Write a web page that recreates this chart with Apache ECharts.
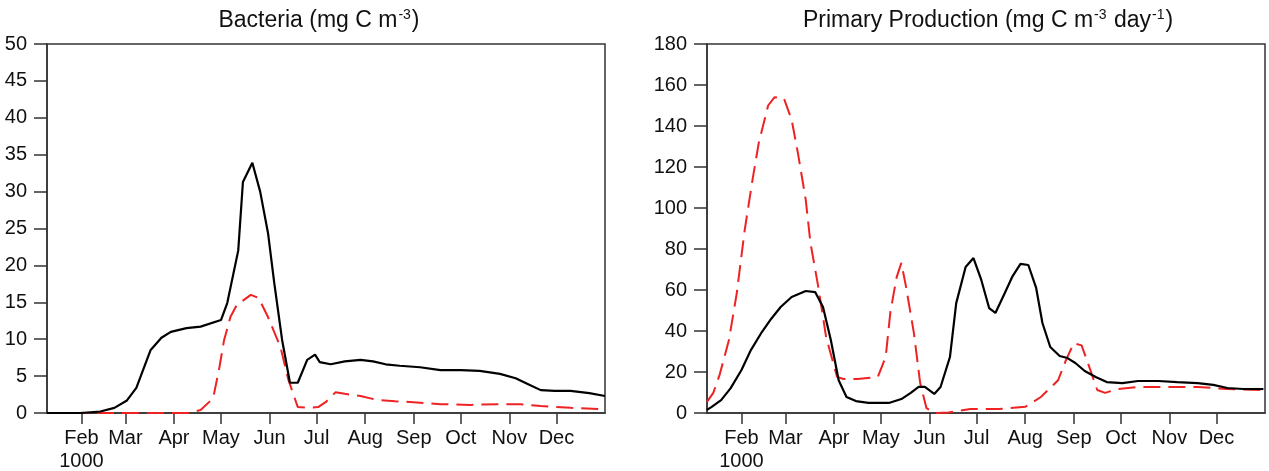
<!DOCTYPE html>
<html>
<head>
<meta charset="utf-8">
<script src="https://cdn.jsdelivr.net/npm/echarts@6/dist/echarts.min.js"></script>
<style>
  html, body { margin: 0; padding: 0; background: #fff; }
  #chart { width: 1269px; height: 471px; }
</style>
</head>
<body>
<div id="chart"></div>
<script>
// x values are day of year (Jan 1 = 0), year 1000
const monthStarts = [31, 59, 90, 120, 151, 181, 212, 243, 273, 304, 334]
const monthNames = ["Feb", "Mar", "Apr", "May", "Jun", "Jul", "Aug", "Sep", "Oct", "Nov", "Dec"]
const yearLabel = "1000"

// Bacteria, solid black
const bactBlackDays = [9, 30, 43, 52, 60, 66, 75, 82, 88, 98, 107, 120, 124, 131, 134, 140, 145, 150, 154, 159, 164, 169, 175, 180, 183, 190, 199, 209, 217, 225, 234, 247, 260, 273, 285, 298, 308, 316, 324, 333, 343, 355, 365]
const bactBlackValues = [0, 0, 0.2, 0.7, 1.7, 3.4, 8.5, 10.2, 11, 11.5, 11.7, 12.6, 14.9, 22, 31.3, 33.9, 30, 24.4, 17.6, 9.9, 4.1, 4.1, 7.2, 7.9, 6.9, 6.6, 7.0, 7.2, 7.0, 6.6, 6.4, 6.2, 5.8, 5.8, 5.7, 5.3, 4.7, 3.9, 3.1, 3.0, 3.0, 2.7, 2.3]

// Bacteria, dashed red
const bactRedDays = [9, 60, 100, 107, 115, 119, 122, 126, 130, 139, 144, 150, 158, 163, 169, 176, 182, 187, 193, 199, 209, 219, 231, 247, 260, 279, 298, 311, 324, 343, 365]
const bactRedValues = [0, 0, 0, 0.4, 2, 6.2, 9.9, 13, 14.6, 16, 15.6, 13, 8.9, 4.5, 0.8, 0.7, 0.8, 1.5, 2.8, 2.6, 2.3, 1.8, 1.6, 1.4, 1.2, 1.1, 1.2, 1.2, 0.95, 0.7, 0.5]

// Primary production, solid black
const ppBlackDays = [9, 12, 18, 24, 31, 37, 44, 50, 56, 63, 72, 78, 83, 88, 93, 98, 104, 112, 125, 133, 139, 144, 148, 154, 158, 164, 168, 174, 179, 184, 189, 193, 199, 204, 209, 214, 219, 223, 228, 234, 239, 244, 250, 257, 264, 274, 284, 297, 309, 322, 332, 341, 351, 364]
const ppBlackValues = [1.5, 3, 6.3, 12, 21, 30.7, 39.5, 46, 51.7, 56.6, 59.5, 59, 51.7, 35.6, 16, 7.8, 5.8, 4.9, 4.9, 6.8, 9.8, 12.7, 12.7, 9.3, 12.7, 27.3, 53.6, 71.2, 75.6, 64.9, 51.2, 48.8, 58.5, 66.8, 72.7, 72.2, 61, 43.9, 32.2, 27.8, 26.8, 24.4, 20.5, 17.6, 15.1, 14.6, 15.6, 15.6, 15.1, 14.6, 13.7, 12.2, 11.7, 11.7]

// Primary production, dashed red
const ppRedDays = [9, 13, 17, 23, 28, 33, 38, 42, 48, 52, 58, 63, 67, 72, 75, 80, 85, 92, 96, 105, 118, 123, 126, 130, 133, 136, 141, 145, 149, 154, 163, 177, 195, 212, 222, 233, 238, 243, 248, 252, 258, 263, 271, 284, 304, 322, 341, 364]
const ppRedValues = [5.4, 9.8, 18.5, 35.6, 58.5, 89, 113.6, 131.7, 150, 154, 153.6, 143, 126.8, 104, 83, 61.5, 37, 17.6, 16.6, 16.6, 17.6, 27.3, 49.3, 66.3, 73.2, 61.5, 39, 14.6, 2.4, 0, 0.2, 1.9, 1.9, 3, 7.8, 16, 25.8, 34, 33, 24.4, 11.2, 9.8, 11.7, 12.7, 12.7, 12.7, 11.7, 11.2]

const zip = (xs, ys) => xs.map((x, i) => [x, ys[i]])

const fontFamily = "Liberation Sans, Arial, sans-serif"
const axisColor = "#333"
const red = "#ee2222"

const chart = echarts.init(document.getElementById("chart"))

function xAxisFor(gridIndex) {
  return {
    type: "value",
    gridIndex,
    min: 9,
    max: 365,
    axisLine: { show: true, lineStyle: { color: axisColor, width: 1.5 } },
    axisTick: {
      show: true,
      length: 11,
      customValues: monthStarts,
      lineStyle: { color: axisColor, width: 1.5 },
    },
    axisLabel: {
      customValues: monthStarts,
      color: "#111",
      fontFamily,
      fontSize: 20,
      lineHeight: 23,
      margin: 14,
      formatter: (v) => {
        const i = monthStarts.indexOf(v)
        if (i < 0) return ""
        return i === 0 ? monthNames[i] + "\n" + yearLabel : monthNames[i]
      },
    },
    splitLine: { show: false },
  }
}

function yAxisFor(gridIndex, max, interval) {
  return {
    type: "value",
    gridIndex,
    min: 0,
    max,
    interval,
    axisLine: { show: true, lineStyle: { color: axisColor, width: 1.5 } },
    axisTick: { show: true, length: 13, lineStyle: { color: axisColor, width: 1.5 } },
    axisLabel: { color: "#111", fontFamily, fontSize: 20, margin: 20 },
    splitLine: { show: false },
  }
}

const titleRich = {
  t: { fontSize: 23, fontFamily, fontWeight: "normal", color: "#111", lineHeight: 26 },
  s: { fontSize: 14, fontFamily, fontWeight: "normal", color: "#111", verticalAlign: "top", lineHeight: 26, padding: [0, 1, 11, 1] },
}

const option = {
  backgroundColor: "#fff",
  animation: false,
  title: [
    {
      text: "{t|Bacteria (mg C m}{s|-3}{t|)}",
      left: 314,
      top: 3,
      textAlign: "center",
      textStyle: { fontWeight: "normal", rich: titleRich },
    },
    {
      text: "{t|Primary Production (mg C m}{s|-3}{t| day}{s|-1}{t|)}",
      left: 983,
      top: 3,
      textAlign: "center",
      textStyle: { fontWeight: "normal", rich: titleRich },
    },
  ],
  grid: [
    { left: 47, right: 664, top: 44, bottom: 58, outerBoundsMode: "none", show: true, borderColor: axisColor, borderWidth: 1.5 },
    { left: 707, right: 4, top: 44, bottom: 58, outerBoundsMode: "none", show: true, borderColor: axisColor, borderWidth: 1.5 },
  ],
  xAxis: [xAxisFor(0), xAxisFor(1)],
  yAxis: [yAxisFor(0, 50, 5), yAxisFor(1, 180, 20)],
  series: [
    {
      type: "line",
      xAxisIndex: 0,
      yAxisIndex: 0,
      data: zip(bactRedDays, bactRedValues),
      showSymbol: false,
      lineStyle: { color: red, width: 2, type: [17, 8] },
    },
    {
      type: "line",
      xAxisIndex: 0,
      yAxisIndex: 0,
      data: zip(bactBlackDays, bactBlackValues),
      showSymbol: false,
      lineStyle: { color: "#000", width: 2.2 },
    },
    {
      type: "line",
      xAxisIndex: 1,
      yAxisIndex: 1,
      data: zip(ppRedDays, ppRedValues),
      showSymbol: false,
      lineStyle: { color: red, width: 2, type: [17, 8] },
    },
    {
      type: "line",
      xAxisIndex: 1,
      yAxisIndex: 1,
      data: zip(ppBlackDays, ppBlackValues),
      showSymbol: false,
      lineStyle: { color: "#000", width: 2.2 },
    },
  ],
}

chart.setOption(option)
</script>
</body>
</html>
